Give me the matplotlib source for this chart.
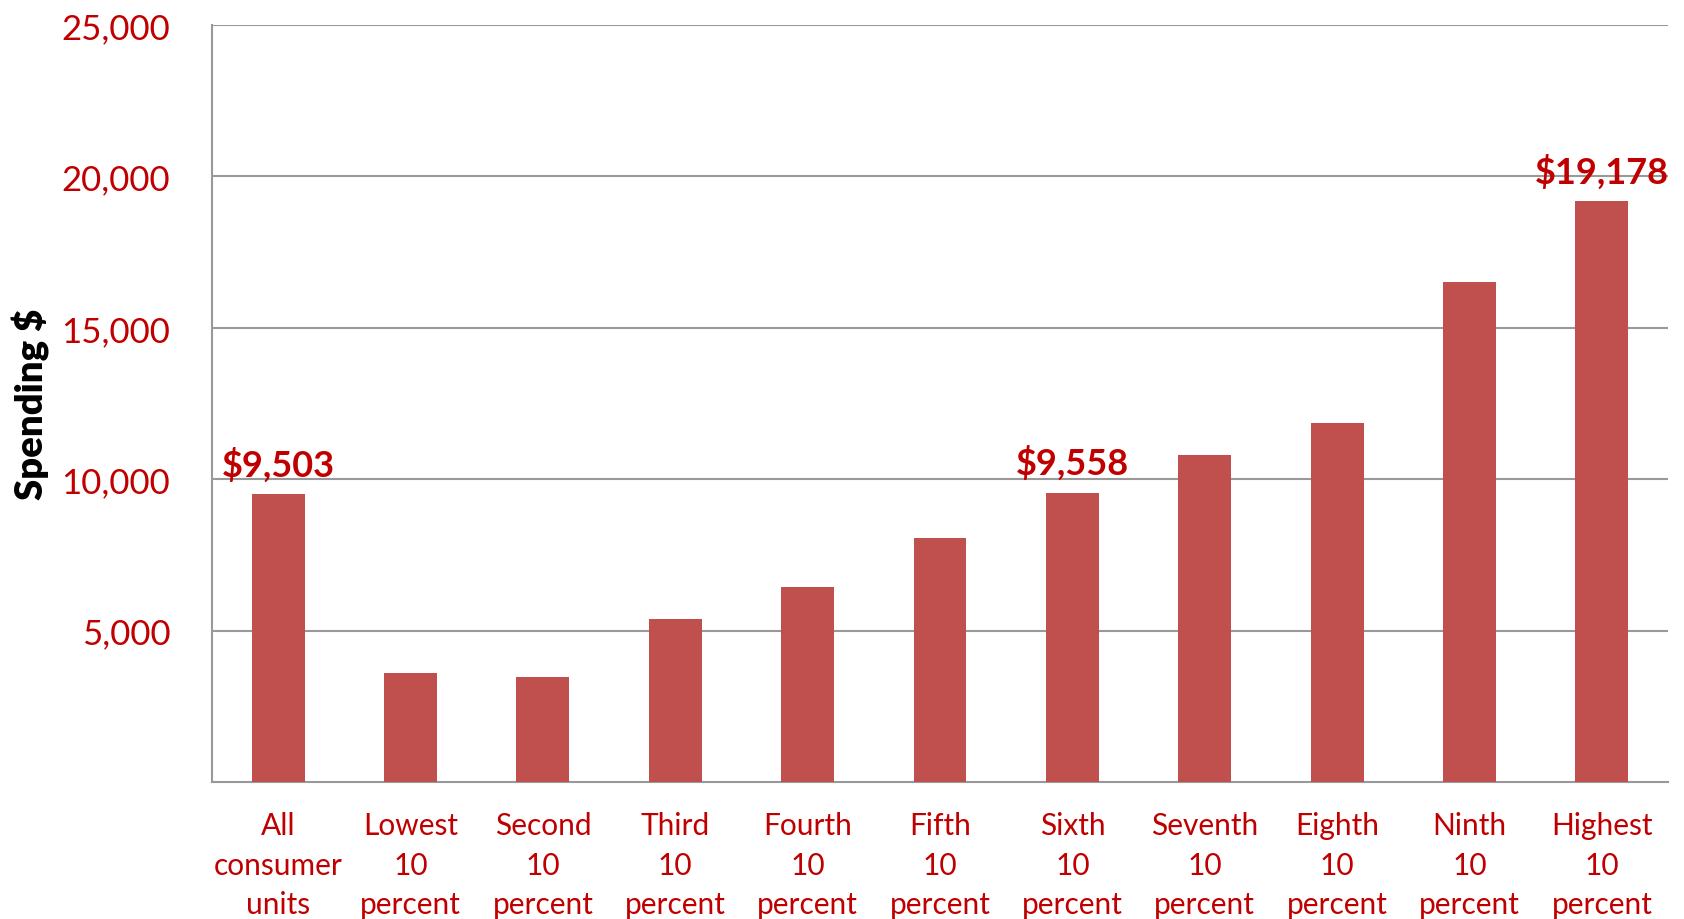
import matplotlib.pyplot as plt
from matplotlib.ticker import FuncFormatter

plt.rcParams['font.family'] = ['Lato', 'DejaVu Sans']

categories = ["All\nconsumer\nunits", "Lowest\n10\npercent", "Second\n10\npercent",
              "Third\n10\npercent", "Fourth\n10\npercent", "Fifth\n10\npercent",
              "Sixth\n10\npercent", "Seventh\n10\npercent", "Eighth\n10\npercent",
              "Ninth\n10\npercent", "Highest\n10\npercent"]
spending = [9503, 3600, 3480, 5370, 6430, 8070, 9558, 10790, 11860, 16500, 19178]
labelled = {0: "$9,503", 6: "$9,558", 10: "$19,178"}
yticks = [5000, 10000, 15000, 20000, 25000]

red_text = "#C00000"
bar_color = "#C0504D"
grid_color = "#999999"

fig = plt.figure(figsize=(16.84, 9.2), dpi=100)
ax = fig.add_axes([0.1259, 0.1489, 0.8646, 0.8228])

x = range(len(categories))
ax.bar(x, spending, width=0.4, color=bar_color, zorder=3)

for i, txt in labelled.items():
    ax.annotate(txt, (i, spending[i]), xytext=(0, 9), textcoords="offset points",
                ha="center", va="bottom", fontsize=26, fontweight="bold",
                color=red_text, zorder=4)

ax.set_xlim(-0.5, len(categories) - 0.5)
ax.set_ylim(0, 25000)
ax.set_yticks(yticks)
ax.yaxis.set_major_formatter(FuncFormatter(lambda v, p: f"{int(v):,}"))
ax.yaxis.grid(True, color=grid_color, linewidth=1.5, zorder=0)

ax.set_xticks(list(x))
ax.set_xticklabels(categories, fontsize=21.5, color=red_text, linespacing=1.5)
ax.tick_params(axis="x", length=0, pad=21)
ax.tick_params(axis="y", length=0, pad=30, labelsize=25, labelcolor=red_text)

for s in ["top", "right"]:
    ax.spines[s].set_visible(False)
for s in ["left", "bottom"]:
    ax.spines[s].set_color(grid_color)
    ax.spines[s].set_linewidth(1.5)

ax.set_ylabel("Spending $", fontsize=27.5, fontweight="heavy", color="black", labelpad=8)

fig.savefig("out.png", dpi=100)
